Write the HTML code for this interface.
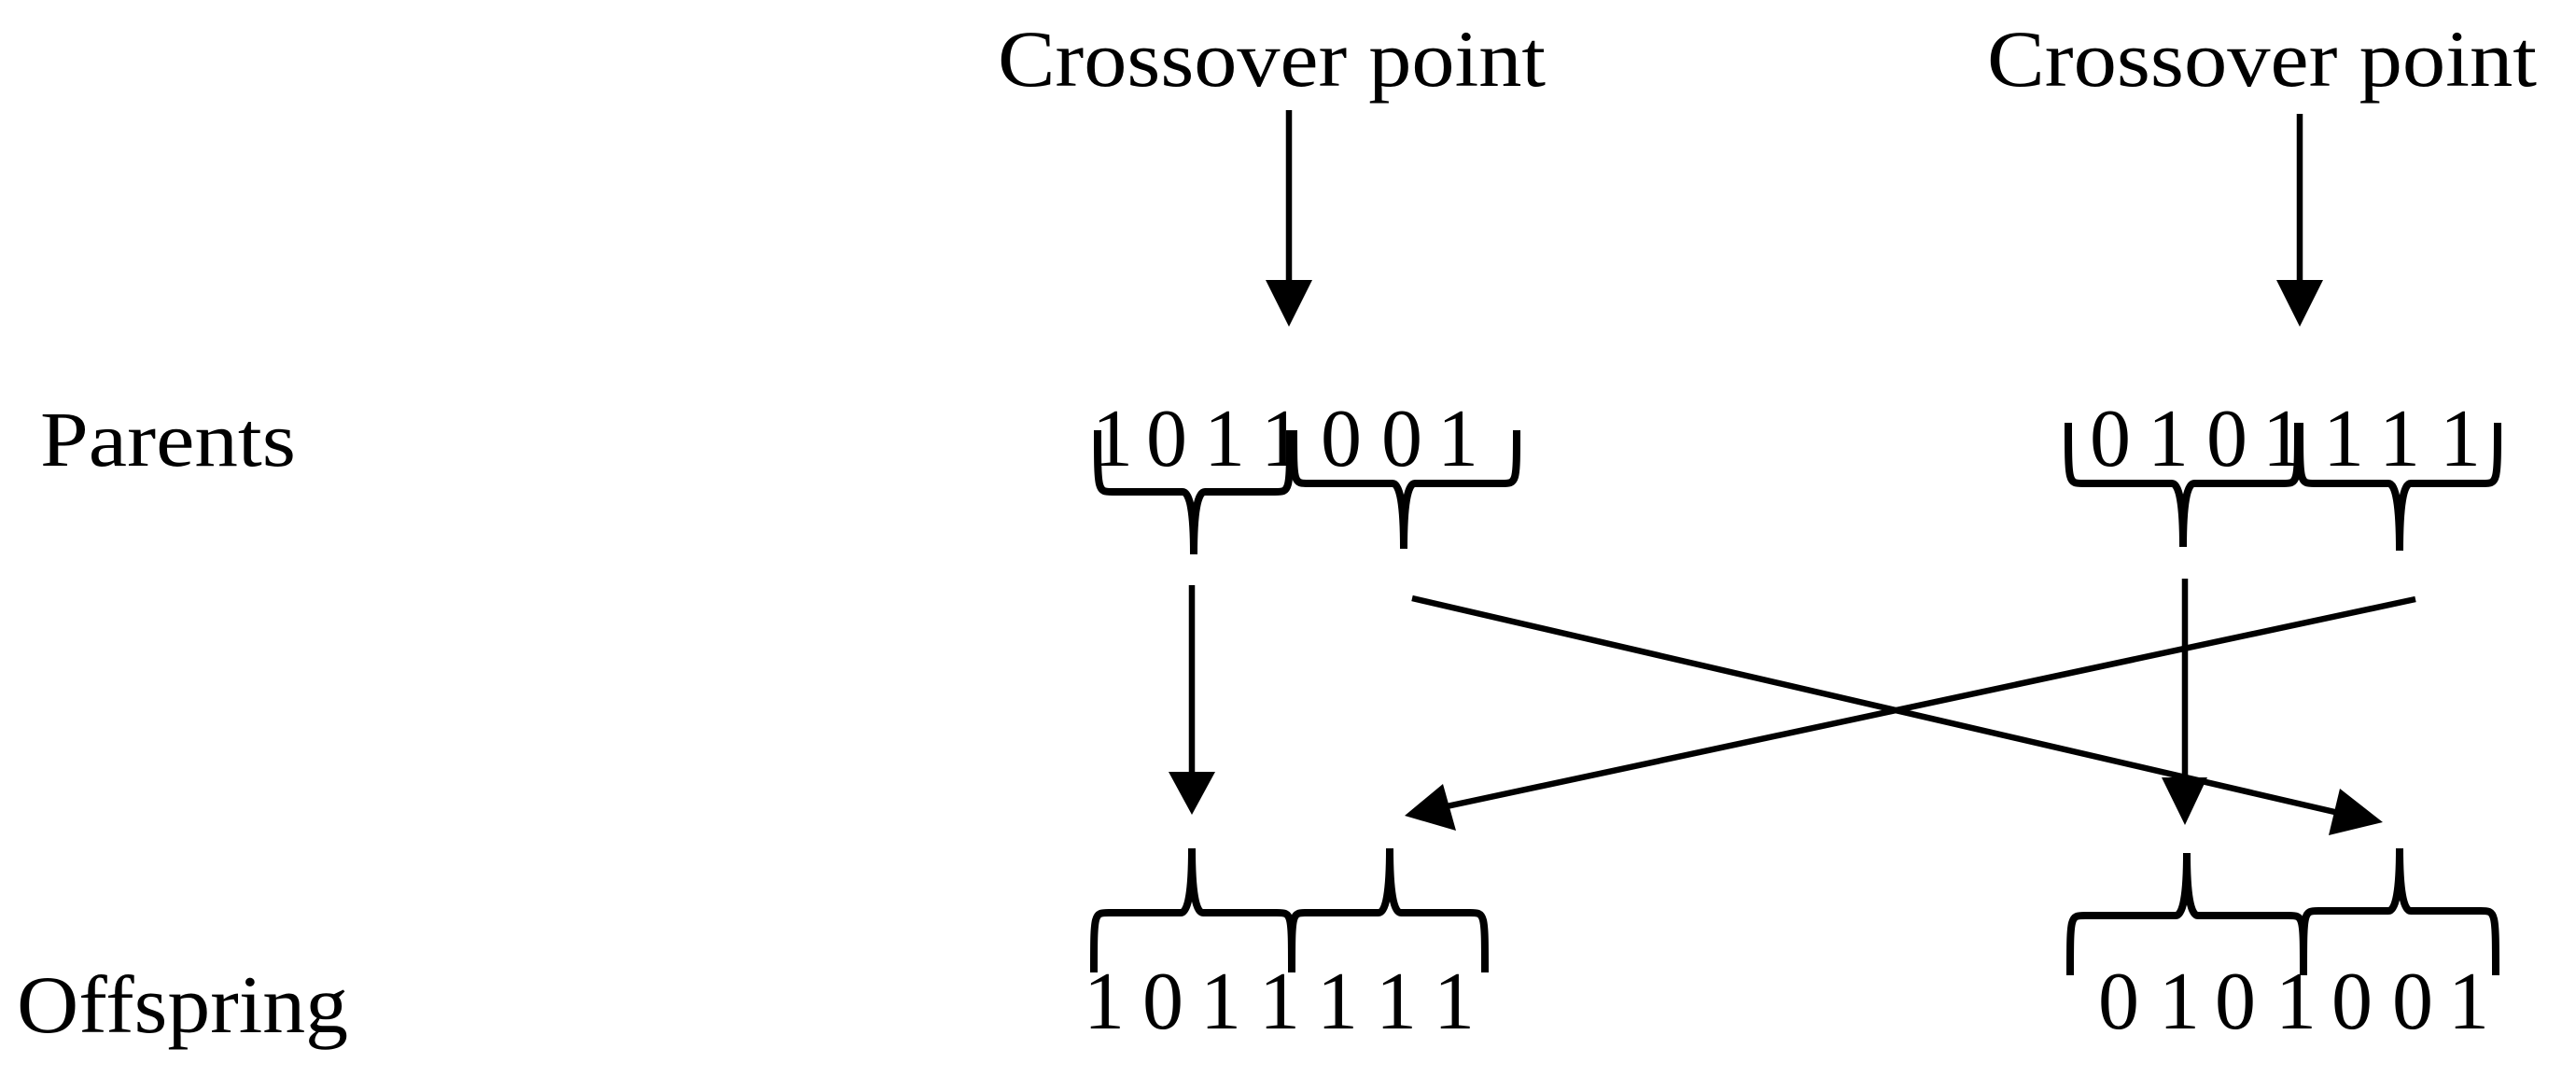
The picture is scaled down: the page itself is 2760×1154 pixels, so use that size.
<!DOCTYPE html>
<html><head><meta charset="utf-8"><style>html,body{margin:0;padding:0;background:#fff}svg{display:block}</style></head>
<body>
<svg width="2760" height="1154" viewBox="0 0 2760 1154" xmlns="http://www.w3.org/2000/svg" font-family="'Liberation Serif', serif" fill="#000">
<rect width="2760" height="1154" fill="#fff"/>
<text x="1069" y="92" font-size="86" textLength="587" lengthAdjust="spacingAndGlyphs">Crossover point</text>
<text x="2129" y="92" font-size="86" textLength="589" lengthAdjust="spacingAndGlyphs">Crossover point</text>
<text x="43" y="499" font-size="84" textLength="274" lengthAdjust="spacingAndGlyphs">Parents</text>
<text x="18" y="1106" font-size="88" textLength="355" lengthAdjust="spacingAndGlyphs">Offspring</text>

<g font-size="88" text-anchor="middle">
<text x="1192" y="499">1</text><text x="1250" y="499">0</text><text x="1312" y="499">1</text><text x="1373" y="499">1</text><text x="1437" y="499">0</text><text x="1502" y="499">0</text><text x="1562" y="499">1</text>
<text x="2261" y="499">0</text><text x="2323" y="499">1</text><text x="2386" y="499">0</text><text x="2446" y="499">1</text><text x="2511" y="499">1</text><text x="2571" y="499">1</text><text x="2636" y="499">1</text>
<text x="1183" y="1102">1</text><text x="1246" y="1102">0</text><text x="1308" y="1102">1</text><text x="1371" y="1102">1</text><text x="1433" y="1102">1</text><text x="1496" y="1102">1</text><text x="1558" y="1102">1</text>
<text x="2270" y="1102">0</text><text x="2335" y="1102">1</text><text x="2395" y="1102">0</text><text x="2460" y="1102">1</text><text x="2520" y="1102">0</text><text x="2585" y="1102">0</text><text x="2645" y="1102">1</text>
</g>

<g fill="none" stroke="#000" stroke-width="8">
<path d="M1176,461 C1176,527 1176,527 1192,527 L1267,527 Q1279,527 1279,594 Q1279,527 1291,527 L1366,527 C1382,527 1382,527 1382,461"/>
<path d="M1386,461 C1386,518 1386,518 1402,518 L1492,518 Q1504,518 1504,588 Q1504,518 1516,518 L1609,518 C1625,518 1625,518 1625,461"/>
<path d="M2216,453 C2216,518 2216,518 2232,518 L2327,518 Q2339,518 2339,586 Q2339,518 2351,518 L2446,518 C2462,518 2462,518 2462,453"/>
<path d="M2464,453 C2464,518 2464,518 2480,518 L2559,518 Q2571,518 2571,590 Q2571,518 2583,518 L2660,518 C2676,518 2676,518 2676,453"/>
<path d="M1172,1042 C1172,978 1172,978 1188,978 L1265,978 Q1277,978 1277,909 Q1277,978 1289,978 L1368,978 C1384,978 1384,978 1384,1042"/>
<path d="M1384,1042 C1384,978 1384,978 1400,978 L1477,978 Q1489,978 1489,909 Q1489,978 1501,978 L1575,978 C1591,978 1591,978 1591,1042"/>
<path d="M2218,1045 C2218,981 2218,981 2234,981 L2331,981 Q2343,981 2343,914 Q2343,981 2355,981 L2452,981 C2468,981 2468,981 2468,1045"/>
<path d="M2468,1045 C2468,976 2468,976 2484,976 L2559,976 Q2571,976 2571,909 Q2571,976 2583,976 L2658,976 C2674,976 2674,976 2674,1045"/>
</g>
<g fill="none" stroke="#000" stroke-width="6.5">
<line x1="1381" y1="118" x2="1381" y2="305"/>
<line x1="2464" y1="122" x2="2464" y2="305"/>
<line x1="1277" y1="627" x2="1277" y2="830"/>
<line x1="2341" y1="620" x2="2341" y2="836"/>
<line x1="1513" y1="641" x2="2510" y2="872"/>
<line x1="2588" y1="642" x2="1550" y2="864"/>
</g>
<g>
<polygon points="1356,300 1406,300 1381,350"/>
<polygon points="2439,300 2489,300 2464,350"/>
<polygon points="1252,827 1302,827 1277,873"/>
<polygon points="2316,833 2365,833 2341,884"/>
<polygon points="2553,881 2507,845 2495,895"/>
<polygon points="1505,874 1546,840 1560,890"/>
</g>
</svg>
</body></html>
